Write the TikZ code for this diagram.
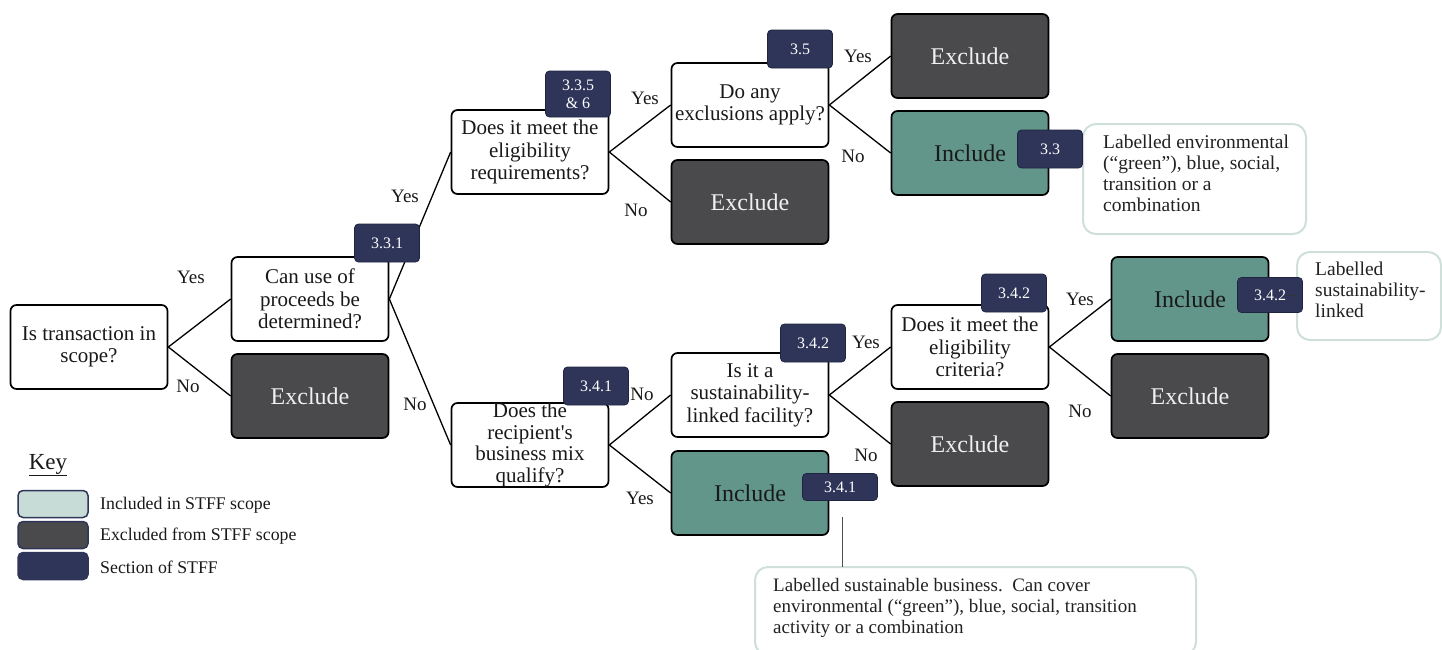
\documentclass[tikz,border=0pt]{standalone}
\usepackage{fontspec}
\setmainfont{Liberation Serif}
\definecolor{exgray}{HTML}{4A4A4C}
\definecolor{inteal}{HTML}{62968A}
\definecolor{navy}{HTML}{2E3558}
\definecolor{navyedge}{HTML}{1F2540}
\definecolor{lightin}{HTML}{C8DCD7}
\definecolor{noteedge}{HTML}{CFE0DB}
\definecolor{notetext}{HTML}{222222}
\begin{document}
\begin{tikzpicture}[x=1pt,y=-1pt,
  qbox/.style={draw=black, line width=1.7pt, rounded corners=6pt, fill=white,
    minimum width=157pt, minimum height=84pt, inner sep=1pt, align=center,
    font=\fontsize{21}{22.5}\selectfont, text=black!90},
  exbox/.style={qbox, fill=exgray, text=white!94!black, font=\fontsize{24}{26}\selectfont},
  inbox/.style={qbox, fill=inteal, text=black!90, font=\fontsize{24}{26}\selectfont},
  badge/.style={draw=navyedge, line width=0.8pt, fill=navy, rounded corners=4pt,
    minimum width=65pt, minimum height=38pt, inner sep=1pt, align=center,
    text=white, font=\fontsize{16}{17}\selectfont},
  lbl/.style={font=\fontsize{19}{20}\selectfont, text=black!90, inner sep=0pt},
  conn/.style={draw=black, line width=1.3pt},
  note/.style={draw=noteedge, line width=2pt, rounded corners=13pt, fill=white},
  notetxt/.style={align=left, anchor=north west, inner sep=0pt, text=notetext,
    font=\fontsize{19.5}{21}\selectfont},
  keybox/.style={draw=navy, line width=1.5pt, rounded corners=5pt,
    minimum width=70pt, minimum height=27pt, inner sep=0pt},
  keytxt/.style={anchor=west, inner sep=0pt, text=black!90, font=\fontsize{17.8}{19}\selectfont},
  noteline/.style={draw=black!70, line width=0.8pt}
]
\clip (0,0) rectangle (1442,649);
\fill[white] (0,0) rectangle (1442,649);

% notes (behind)
\draw[note] (1083,124) rectangle (1306,234);
\node[notetxt] (note1t) at (1103,135) {Labelled environmental\\(“green”), blue, social,\\transition or a\\combination};
\draw[note] (1297,252) rectangle (1441,340);
\coordinate (n2w) at (1297,296);
\node[notetxt] (note2t) at (1315,262) {Labelled\\sustainability-\\linked};
\draw[note] (755,567) rectangle (1196,655);
\coordinate (n3n) at (842,567);
\node[notetxt, font=\fontsize{19}{21}\selectfont] (note3t) at (773,578) {Labelled sustainable business.\ \ Can cover\\environmental (“green”), blue, social, transition\\activity or a combination};

% boxes
\node[qbox] (A) at (89,347) {Is transaction in\\scope?};
\node[qbox] (B) at (310,299) {Can use of\\proceeds be\\determined?};
\node[exbox] (C) at (310,396) {Exclude};
\node[qbox] (D) at (530,152) {Does it meet the\\eligibility\\requirements?};
\node[qbox] (E) at (750,105) {Do any\\exclusions apply?};
\node[exbox] (F) at (750,202) {Exclude};
\node[exbox] (G) at (970,56) {Exclude};
\node[inbox] (H) at (970,153) {Include};
\node[qbox, inner ysep=0pt, font=\fontsize{21}{21.5}\selectfont] (I) at (530,445) {Does the\\recipient\textquotesingle s\\business mix\\qualify?};
\node[qbox] (J) at (750,395) {Is it a\\sustainability-\\linked facility?};
\node[inbox] (K) at (750,493) {Include};
\node[qbox] (L) at (970,347) {Does it meet the\\eligibility\\criteria?};
\node[exbox] (M) at (970,444) {Exclude};
\node[inbox] (N) at (1190,299) {Include};
\node[exbox] (O) at (1190,396) {Exclude};

% connectors
\draw[conn] (A.east) -- (B.west);
\draw[conn] (A.east) -- (C.west);
\draw[conn] (B.east) -- (D.west);
\draw[conn] (B.east) -- (I.west);
\draw[conn] (D.east) -- (E.west);
\draw[conn] (D.east) -- (F.west);
\draw[conn] (E.east) -- (G.west);
\draw[conn] (E.east) -- (H.west);
\draw[conn] (I.east) -- (J.west);
\draw[conn] (I.east) -- (K.west);
\draw[conn] (J.east) -- (L.west);
\draw[conn] (J.east) -- (M.west);
\draw[conn] (L.east) -- (N.west);
\draw[conn] (L.east) -- (O.west);

% badges
\node[badge] (b331) at (387,243) {3.3.1};
\node[badge, minimum height=46pt, font=\fontsize{16}{18}\selectfont] (b3356) at (578,94) {3.3.5\\\& 6};
\node[badge] (b35) at (800,49) {3.5};
\node[badge] (b33) at (1050,149) {3.3};
\node[badge] (b341a) at (596,386) {3.4.1};
\node[badge] (b342a) at (813,343) {3.4.2};
\node[badge] (b342b) at (1014,293) {3.4.2};
\node[badge, minimum height=35pt] (b342c) at (1270,295) {3.4.2};
\node[badge, minimum width=75pt, minimum height=27pt] (b341b) at (840,487) {3.4.1};

% note connectors
\coordinate (k1) at (842,517);
\draw[noteline] (k1) -- (n3n);
\draw[line width=0.8pt, black!80] ([xshift=-16pt]b342c.east) -- (n2w);

% branch labels
\node[lbl] (y1) at (191,277) {Yes};
\node[lbl] (no1) at (188,386) {No};
\node[lbl] (y2) at (405,196) {Yes};
\node[lbl] (no2) at (415,404) {No};
\node[lbl] (y3) at (645,98) {Yes};
\node[lbl] (no3) at (636,210) {No};
\node[lbl] (y4) at (858,56) {Yes};
\node[lbl] (no4) at (853,156) {No};
\node[lbl] (no5) at (642,394) {No};
\node[lbl] (y5) at (640,498) {Yes};
\node[lbl] (y6) at (866,342) {Yes};
\node[lbl] (no6) at (866,455) {No};
\node[lbl] (y7) at (1080,299) {Yes};
\node[lbl] (no7) at (1080,411) {No};

% key
\node[inner sep=0pt, font=\fontsize{23}{25}\selectfont, text=black!90] (key) at (48,465) {\underline{Key}};
\node[keybox, fill=lightin] (k1b) at (53,504) {};
\node[keybox, fill=exgray] (k2b) at (53,535) {};
\node[keybox, fill=navy] (k3b) at (53,566) {};
\node[keytxt] (k1t) at (100,505) {Included in STFF scope};
\node[keytxt] (k2t) at (100,536) {Excluded from STFF scope};
\node[keytxt] (k3t) at (100,567) {Section of STFF};
\end{tikzpicture}
\end{document}
